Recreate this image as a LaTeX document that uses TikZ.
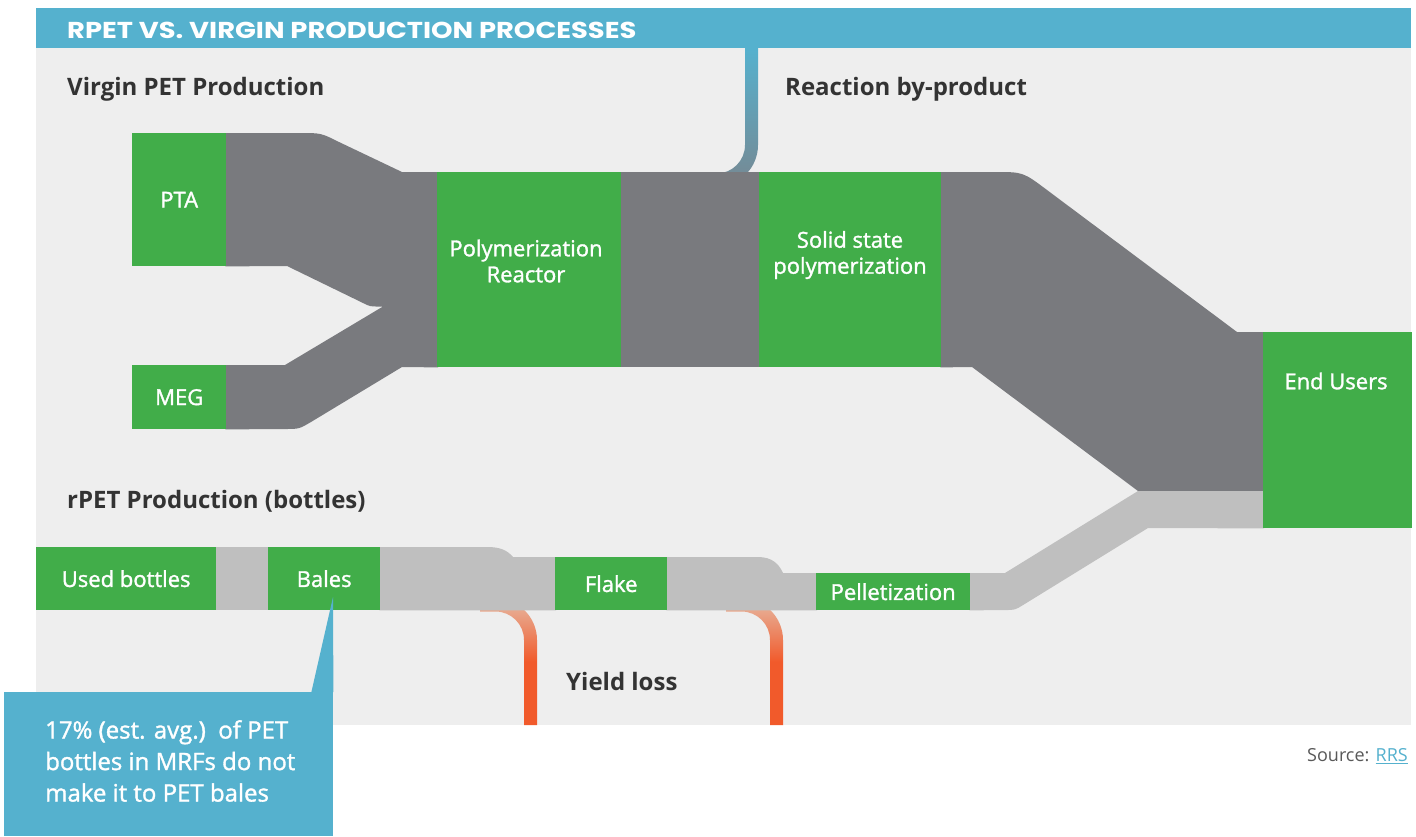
\documentclass[tikz,border=0pt]{standalone}
\usepackage{fontspec}
\setmainfont{Open Sans}
\newfontfamily\semifont{Open Sans}[BoldFont={*}, BoldFeatures={FakeBold=1.4}]
\newfontfamily\titlefont{Poppins}[FakeStretch=1.19]
\usetikzlibrary{shadings}
\pgfdeclarelayer{back}
\pgfdeclarelayer{flow}
\pgfsetlayers{back,flow,main}
\definecolor{pgreen}{HTML}{41AD49}
\definecolor{flowdark}{HTML}{797A7E}
\definecolor{flowlight}{HTML}{BFBFBF}
\definecolor{panelc}{HTML}{EEEEEE}
\definecolor{barteal}{HTML}{55B1CE}
\definecolor{headc}{HTML}{333333}
\definecolor{orangec}{HTML}{F15A2B}
\definecolor{salmonc}{HTML}{E6B9A3}
\definecolor{bygrey}{HTML}{778892}
\definecolor{srcgrey}{HTML}{595959}
\begin{document}
\begin{tikzpicture}[x=1pt,y=-1pt,
  box/.style={fill=pgreen, inner sep=0pt, anchor=north west, text=white,
    font=\semifont\bfseries\fontsize{22}{26}\selectfont, align=center},
  lbl/.style={inner sep=0pt, text=white, font=\semifont\bfseries\fontsize{22}{26}\selectfont, align=center},
  head/.style={anchor=base west, inner sep=0pt, text=headc, font=\bfseries\fontsize{24}{29}\selectfont},
  darkflow/.style={fill=flowdark},
  lightflow/.style={fill=flowlight},
  bypath/.style={top color=barteal, bottom color=bygrey},
  losspath/.style={top color=salmonc, bottom color=orangec, middle color=orangec},
]
\useasboundingbox (0,0) rectangle (1416,836);
\begin{pgfonlayer}{back}
  \fill[white] (0,0) rectangle (1416,836);
  \fill[panelc] (36,48) rectangle (1411,725);
  \fill[barteal] (36,8) rectangle (1411,48);
  % reaction by-product stream
  \shade[bypath] (745,48) -- (745,145) .. controls (745,160.74) and (732.24,173.5) .. (716.5,173.5)
     -- (700,173.5) -- (700,186.5) -- (716.5,186.5) .. controls (739.42,186.5) and (758,167.92) .. (758,145)
     -- (758,48) -- cycle;
  % yield loss streams
  \shade[losspath] (524,725) -- (524,640) .. controls (524,624.26) and (511.24,611.5) .. (495.5,611.5)
     -- (480,611.5) -- (480,598.5) -- (495.5,598.5) .. controls (518.42,598.5) and (537,617.08) .. (537,640)
     -- (537,725) -- cycle;
  \shade[losspath] (770,725) -- (770,640) .. controls (770,624.26) and (757.24,611.5) .. (741.5,611.5)
     -- (726,611.5) -- (726,598.5) -- (741.5,598.5) .. controls (764.42,598.5) and (783,617.08) .. (783,640)
     -- (783,725) -- cycle;
\end{pgfonlayer}

\node[anchor=base west, inner sep=0pt, text=white, font=\titlefont\bfseries\fontsize{23}{27}\selectfont] (title) at (67,38) {RPET VS. VIRGIN PRODUCTION PROCESSES};

\node[head] (hvirgin) at (67,95) {Virgin PET Production};
\node[head] (hby) at (785,95) {Reaction by-product};
\node[head] (hrpet) at (67,508.5) {rPET Production (bottles)};
\node[head] (hyield) at (566,690.5) {Yield loss};

% boxes
\node[box, minimum width=94pt, minimum height=133pt] (pta) at (132,133) {PTA};
\node[box, minimum width=94pt, minimum height=64pt] (meg) at (132,365) {MEG};
\node[box, minimum width=184pt, minimum height=195pt] (reactor) at (437,172) {};
\node[lbl] (reactorlbl) at (526,261) {Polymerization\\Reactor};
\node[box, minimum width=182pt, minimum height=195pt] (ssp) at (759,172) {};
\node[lbl] (ssplbl) at (850,255) {Solid state\\polymerization};
\node[box, minimum width=149pt, minimum height=196pt] (endusers) at (1263,332) {};
\node[lbl] (enduserslbl) at (1336,381) {End Users};
\node[box, minimum width=180pt, minimum height=63pt] (used) at (36,547) {Used bottles};
\node[box, minimum width=112pt, minimum height=63pt] (bales) at (268,547) {Bales};
\node[box, minimum width=112pt, minimum height=53pt] (flake) at (555,557) {Flake};
\node[box, minimum width=154pt, minimum height=37pt] (pellet) at (816,573) {Pelletization};

% flows
\begin{pgfonlayer}{flow}
  \fill[darkflow] ([xshift=-1pt]pta.north east) -- (300,133) .. controls (321,133) .. (339,142) -- (402,172)
     -- ([xshift=1pt]reactor.north west) -- ([xshift=1pt]reactor.south west) -- (402,367) -- (311,422) .. controls (299,429) .. (285,429)
     -- ([xshift=-1pt]meg.south east) -- ([xshift=-1pt]meg.north east) -- (285,365) -- (383,306.5) -- (378,306.5)
     .. controls (370,306.5) .. (362,302.5) -- (287,266) -- ([xshift=-1pt]pta.south east) -- cycle;
  \fill[darkflow] ([xshift=-1pt]reactor.north east) rectangle ([xshift=1pt]ssp.south west);
  \fill[darkflow] ([xshift=-1pt]ssp.north east) -- (995,172) .. controls (1023,172) .. (1047,190) -- (1237,332)
     -- ([xshift=1pt]endusers.north west) -- (1264,491) -- (1138,491) -- (972,367) -- ([xshift=-1pt]ssp.south east) -- cycle;
  \fill[lightflow] ([xshift=-1pt]used.north east) rectangle ([xshift=1pt]bales.south west);
  \fill[lightflow] ([xshift=-1pt]bales.north east) -- (487,547) .. controls (500,547) and (507,550) .. (513,557)
     -- ([xshift=1pt]flake.north west) -- ([xshift=1pt]flake.south west) -- ([xshift=-1pt]bales.south east) -- cycle;
  \fill[lightflow] ([xshift=-1pt]flake.north east) -- (758,557) .. controls (772,557) and (779,564) .. (783,573)
     -- ([xshift=1pt]pellet.north west) -- ([xshift=1pt]pellet.south west) -- ([xshift=-1pt]flake.south east) -- cycle;
  \fill[lightflow] ([xshift=-1pt]pellet.north east) -- (1005,573) -- (1138,491) -- (1264,491) -- ([xshift=1pt]endusers.south west)
     -- (1148,528) -- (1023.5,604.75) .. controls (1015,610) .. (1005,610) -- ([xshift=-1pt]pellet.south east) -- cycle;
\end{pgfonlayer}

% callout
\node[fill=barteal, inner sep=0pt, anchor=north west, minimum width=329pt, minimum height=144pt] (note) at (4,692) {};
\coordinate (tip) at (333,597);
\fill[barteal] ([xshift=-22pt]note.north east) -- (tip) -- (note.north east) -- cycle;
\node[anchor=north west, inner sep=0pt, text=white, align=left,
  font=\semifont\bfseries\fontsize{24}{31.5}\selectfont] (notetext) at (45,720)
  {17\% (est. avg.)\ \ of PET\\bottles in MRFs do not\\make it to PET bales};

\node[anchor=base east, inner sep=0pt, text=srcgrey, font=\fontsize{18}{22}\selectfont] (src) at (1408,761.5)
  {Source: \textcolor{barteal}{\underline{RRS}}};
\end{tikzpicture}
\end{document}
